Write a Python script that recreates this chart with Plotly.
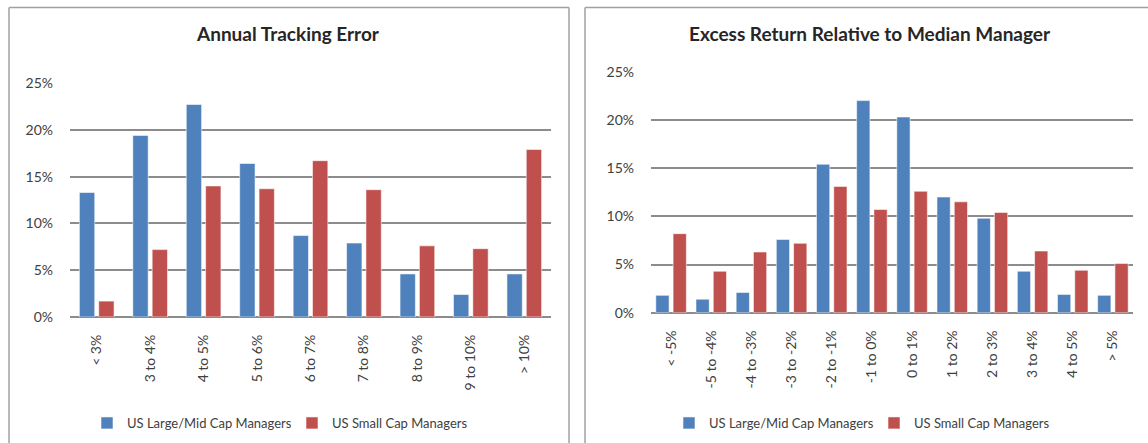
import plotly.graph_objects as go
from plotly.subplots import make_subplots

# --- data (percent of managers) ---
TE_BUCKETS = ["< 3%", "3 to 4%", "4 to 5%", "5 to 6%", "6 to 7%", "7 to 8%",
              "8 to 9%", "9 to 10%", "> 10%"]
TE_LARGE = [13.3, 19.4, 22.7, 16.4, 8.7, 7.9, 4.6, 2.4, 4.6]
TE_SMALL = [1.7, 7.2, 14.0, 13.7, 16.7, 13.6, 7.6, 7.3, 17.9]

ER_BUCKETS = ["< -5%", "-5 to -4%", "-4 to -3%", "-3 to -2%", "-2 to -1%", "-1 to 0%",
              "0 to 1%", "1 to 2%", "2 to 3%", "3 to 4%", "4 to 5%", "> 5%"]
ER_LARGE = [1.8, 1.4, 2.1, 7.6, 15.4, 22.0, 20.3, 12.0, 9.8, 4.3, 1.9, 1.8]
ER_SMALL = [8.2, 4.3, 6.3, 7.2, 13.1, 10.7, 12.6, 11.5, 10.4, 6.4, 4.4, 5.1]

Y_TICKS = [0, 5, 10, 15, 20, 25]
Y_LABELS = ["0%", "5%", "10%", "15%", "20%", "25%"]

BLUE = "#4F81BD"
RED = "#C0504D"
GRID = "#8c8c8c"
FRAME = "#a0a0a0"
FONT = "Lato"
W, H = 1148, 443

fig = make_subplots(rows=1, cols=2)

# left chart bars
fig.add_trace(go.Bar(x=TE_BUCKETS, y=TE_LARGE, name="US Large/Mid Cap Managers",
                     marker_color=BLUE, width=0.287, offset=-0.3245,
                     marker_line=dict(color="rgba(255,255,255,0.55)", width=1),
                     legend="legend"), row=1, col=1)
fig.add_trace(go.Bar(x=TE_BUCKETS, y=TE_SMALL, name="US Small Cap Managers",
                     marker_color=RED, width=0.287, offset=0.0375,
                     marker_line=dict(color="rgba(255,255,255,0.55)", width=1),
                     legend="legend"), row=1, col=1)
# right chart bars
fig.add_trace(go.Bar(x=ER_BUCKETS, y=ER_LARGE, name="US Large/Mid Cap Managers",
                     marker_color=BLUE, width=0.33, offset=-0.38,
                     marker_line=dict(color="rgba(255,255,255,0.55)", width=1),
                     legend="legend2"), row=1, col=2)
fig.add_trace(go.Bar(x=ER_BUCKETS, y=ER_SMALL, name="US Small Cap Managers",
                     marker_color=RED, width=0.33, offset=0.05,
                     marker_line=dict(color="rgba(255,255,255,0.55)", width=1),
                     legend="legend2"), row=1, col=2)

xax = dict(type="category", showgrid=False, showline=False, ticks="", tickangle=-90,
           automargin=False, ticklabelstandoff=14,
           tickfont=dict(family=FONT, size=14, color="#404040"))
yax = dict(range=[0, 25], tickmode="array", tickvals=Y_TICKS, ticktext=Y_LABELS,
           showgrid=True, gridcolor=GRID, gridwidth=1.5, zeroline=True,
           zerolinecolor=GRID, zerolinewidth=1.5, showline=False, ticks="",
           automargin=False, ticklabelstandoff=16,
           tickfont=dict(family=FONT, size=14, color="#404040"))

fig.update_xaxes(xax)
fig.update_yaxes(yax)
fig.update_layout(
    xaxis=dict(domain=[70 / W, 551 / W], range=[-0.5, 8.5]),
    xaxis2=dict(domain=[651 / W, 1133 / W], range=[-0.5, 11.5]),
    yaxis=dict(domain=[1 - 317 / H, 1 - 83 / H]),
    yaxis2=dict(domain=[1 - 312.7 / H, 1 - 71.7 / H]),
)

legend_style = dict(orientation="h", xanchor="left", yanchor="middle", y=1 - 423 / H,
                    font=dict(family=FONT, size=13, color="#404040"),
                    bgcolor="rgba(0,0,0,0)", itemwidth=30, traceorder="normal",
                    entrywidth=160, entrywidthmode="pixels")
fig.update_layout(
    legend=dict(legend_style, x=(127 - 40) / W),
    legend2=dict(legend_style, x=(709 - 40) / W),
)

# panel frames (open at the bottom; right panel runs off the page)
frame = dict(type="line", xref="paper", yref="paper", line=dict(color=FRAME, width=1.5))
top = 1 - 7.5 / H
for x in (9, 569, 585):
    fig.add_shape(frame, x0=x / W, x1=x / W, y0=0, y1=top)
fig.add_shape(frame, x0=9 / W, x1=569 / W, y0=top, y1=top)
fig.add_shape(frame, x0=585 / W, x1=1, y0=top, y1=top)

# titles
for xc, text in [(288, "Annual Tracking Error"), (870, "Excess Return Relative to Median Manager")]:
    fig.add_annotation(x=xc / W, y=1 - 33 / H, xref="paper", yref="paper",
                       text=f"<b>{text}</b>", showarrow=False,
                       xanchor="center", yanchor="middle",
                       font=dict(family=FONT, size=19, color="#262626"))

fig.update_layout(
    width=W, height=H,
    margin=dict(l=0, r=0, t=0, b=0, pad=0),
    paper_bgcolor="white", plot_bgcolor="white",
    barmode="group",
    showlegend=True,
)

fig.write_html("out.html", config={"displayModeBar": False},
               post_script="document.body.style.margin='0';")
